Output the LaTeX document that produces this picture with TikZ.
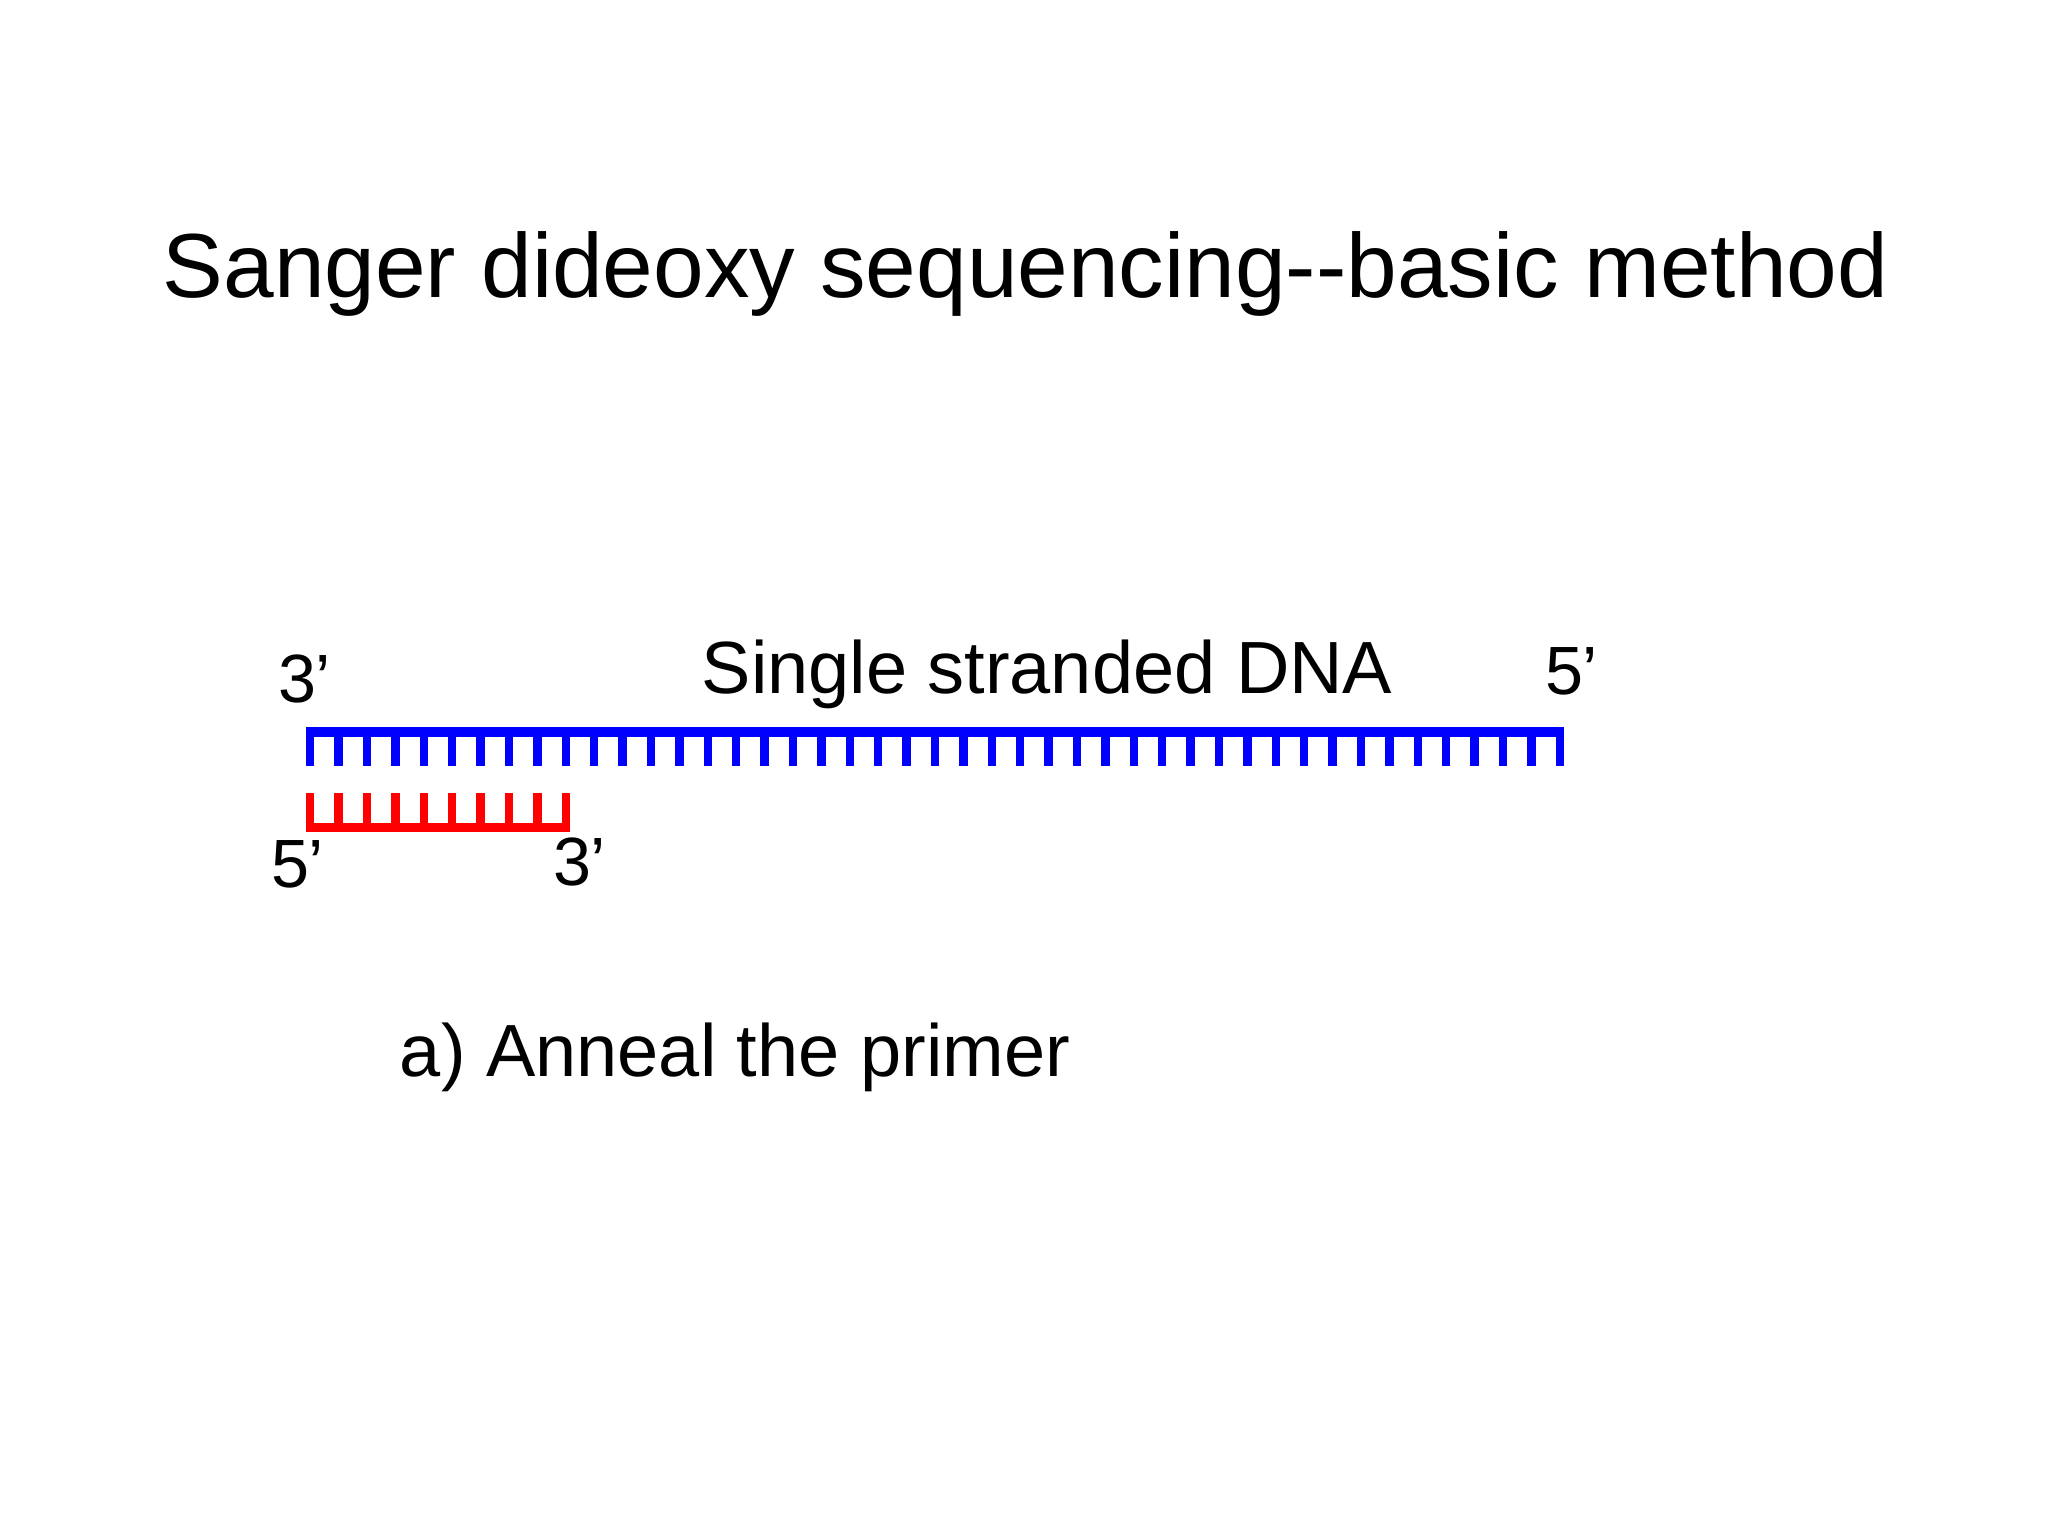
\documentclass[tikz,border=0pt]{standalone}
\usepackage{fontspec}
\setmainfont{Liberation Sans}
\begin{document}
\begin{tikzpicture}[x=0.3515625pt, y=-0.3515625pt,
  lbl/.style={inner sep=0pt, outer sep=0pt, anchor=base west, font=\fontsize{24}{28}\selectfont},
  big/.style={inner sep=0pt, outer sep=0pt, anchor=base, font=\fontsize{26}{31}\selectfont},
  ttl/.style={inner sep=0pt, outer sep=0pt, anchor=base, font=\fontsize{32}{38}\selectfont}]
\useasboundingbox[fill=white] (0,0) rectangle (2048,1536);
% title
\node[ttl] (title) at (1025.5,298) {Sanger dideoxy sequencing-{}-basic method};
% template strand (blue)
\fill[blue] (306,727.3) rectangle (1564,736.7);
\foreach \i in {0,...,44}
  \fill[blue] ({306+28.4*\i},732) rectangle ++(8.3,33.7);
% primer (red)
\fill[red] (306,822.7) rectangle (570,831.7);
\foreach \i in {0,...,9}
  \fill[red] ({306+28.4*\i},793.3) rectangle ++(8.3,34);
% labels
\node[big] (ssdna) at (1047,693) {Single stranded DNA};
\node[lbl] (t3) at (278,703) {3’};
\node[lbl] (t5) at (1545,694) {5’};
\node[lbl] (p5) at (271,887) {5’};
\node[lbl] (p3) at (553,885) {3’};
\node[big] (stepa) at (735,1076) {a) Anneal the primer};
\end{tikzpicture}
\end{document}
